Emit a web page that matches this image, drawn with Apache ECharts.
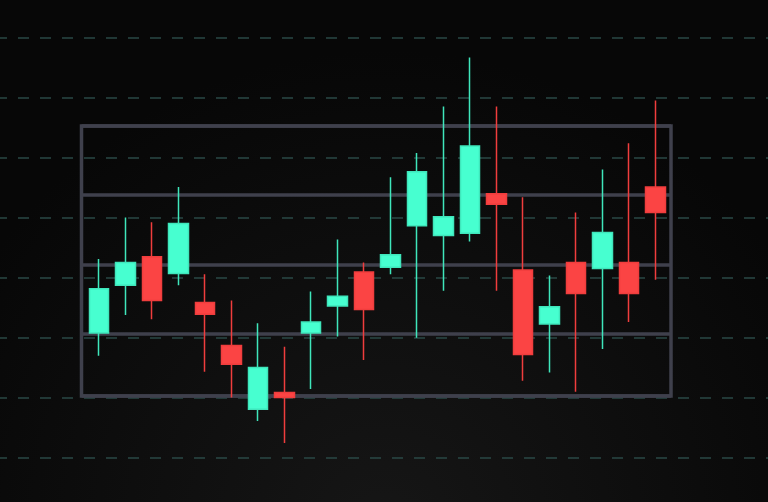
<!DOCTYPE html>
<html>
<head>
<meta charset="utf-8">
<script src="https://cdn.jsdelivr.net/npm/echarts@6/dist/echarts.min.js"></script>
<style>
    html, body { margin: 0; padding: 0; background: #070707; }
    #chart { width: 768px; height: 502px; }
</style>
</head>
<body>
<div id="chart"></div>
<script>
// 类目（22根K线）
var days = ['1', '2', '3', '4', '5', '6', '7', '8', '9', '10', '11',
    '12', '13', '14', '15', '16', '17', '18', '19', '20', '21', '22'];

// 开 / 收 / 低 / 高
var openArr  = [30.1, 37.0, 41.1, 38.7, 34.5, 28.3, 19.1, 21.5, 30.1, 34.0, 38.9,
    39.6, 45.6, 44.2, 44.5, 50.2, 39.2, 31.4, 40.3, 39.4, 40.3, 51.2];
var closeArr = [36.5, 40.3, 34.8, 45.9, 32.8, 25.6, 25.1, 20.8, 31.7, 35.4, 33.5,
    41.4, 53.4, 46.9, 57.1, 48.7, 27.0, 33.9, 35.8, 44.6, 35.8, 47.5];
var lowArr   = [26.8, 32.7, 32.1, 37.0, 24.5, 20.8, 17.4, 14.2, 22.0, 29.6, 26.2,
    38.6, 29.4, 36.2, 43.3, 36.2, 23.2, 24.4, 21.6, 27.8, 31.7, 37.8];
var highArr  = [40.8, 46.8, 46.1, 51.2, 38.6, 34.8, 31.5, 28.1, 36.1, 43.6, 40.3,
    52.6, 56.1, 62.8, 69.9, 62.8, 49.7, 38.4, 47.5, 53.7, 57.5, 63.7];

// 价格轴范围
var priceMin = 21;
var priceMax = 60;

var kData = [];
for (var i = 0; i < days.length; i++) {
    kData.push([openArr[i], closeArr[i], lowArr[i], highArr[i]]);
}

var boxColor = '#3f404c';
var chart = echarts.init(document.getElementById('chart'));
var option = {
    animation: false,
    backgroundColor: {
        type: 'radial', x: 0.5, y: 1.05, r: 0.95,
        colorStops: [
            {offset: 0, color: '#161616'},
            {offset: 1, color: '#070707'}
        ]
    },
    grid: [
        // 背景虚线
        {left: 0, right: 0, top: 38, bottom: 44, show: false},
        // 方框
        {left: 81.5, right: 97, top: 126, bottom: 106, show: true,
            borderColor: boxColor, borderWidth: 3.5},
        // K线
        {left: 85.5, right: 99.5, top: 126, bottom: 106, show: false}
    ],
    xAxis: [
        {gridIndex: 0, type: 'value', min: 0, max: 1, show: false},
        {gridIndex: 1, type: 'value', min: 0, max: 1, show: false},
        {gridIndex: 2, type: 'category', data: days, show: false, boundaryGap: true}
    ],
    yAxis: [
        {
            gridIndex: 0, type: 'value', min: 0, max: 7, interval: 1,
            axisLine: {show: false}, axisTick: {show: false}, axisLabel: {show: false},
            splitLine: {
                show: true,
                lineStyle: {color: '#2a4845', width: 1.5, type: [11, 11], dashOffset: 4}
            }
        },
        {
            gridIndex: 1, type: 'value', inverse: true, min: 0, max: priceMax - priceMin, interval: 10,
            axisLine: {show: false}, axisTick: {show: false}, axisLabel: {show: false},
            splitLine: {show: true, lineStyle: {color: boxColor, width: 3.5}}
        },
        {
            gridIndex: 2, type: 'value', min: priceMin, max: priceMax,
            axisLine: {show: false}, axisTick: {show: false}, axisLabel: {show: false},
            splitLine: {show: false}
        }
    ],
    series: [
        {
            type: 'candlestick',
            xAxisIndex: 2,
            yAxisIndex: 2,
            clip: false,
            barWidth: 20,
            data: kData,
            itemStyle: {
                color: '#47ffd0',
                color0: '#fb4444',
                borderColor: '#3fe6bb',
                borderColor0: '#f03d3d',
                borderWidth: 1.5
            }
        }
    ]
};
chart.setOption(option);
</script>
</body>
</html>
